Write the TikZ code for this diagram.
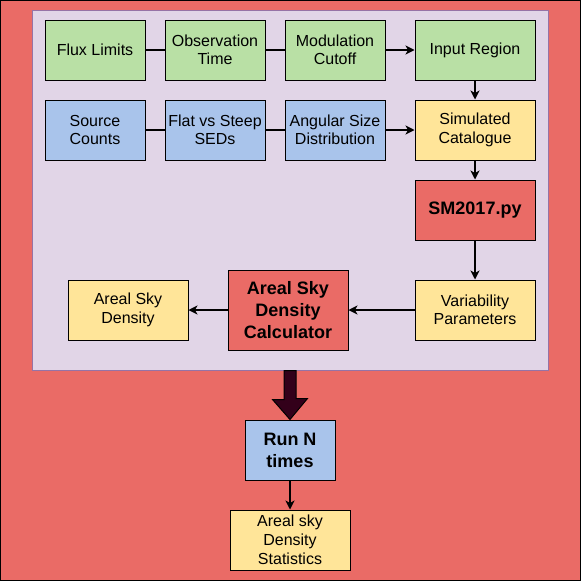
\documentclass[tikz,border=0pt]{standalone}
\usepackage{fontspec}
\setmainfont{Liberation Sans}
\usetikzlibrary{positioning,arrows.meta}

\definecolor{bgred}{HTML}{EA6B66}
\definecolor{lavender}{HTML}{E1D5E7}
\definecolor{lavline}{HTML}{9673A6}
\definecolor{boxgreen}{HTML}{B9E0A5}
\definecolor{boxblue}{HTML}{A9C4EB}
\definecolor{boxyellow}{HTML}{FFE599}
\definecolor{darkmaroon}{HTML}{33001A}

\begin{document}
\begin{tikzpicture}[x=1pt,y=-1pt,node distance=120pt,on grid,
	box/.style={draw=black,line width=1pt,minimum width=100pt,minimum height=60pt,
		inner sep=0pt,align=center,font=\fontsize{16}{18.5}\selectfont},
	inbox/.style={box,fill=boxgreen},
	srcbox/.style={box,fill=boxblue},
	outbox/.style={box,fill=boxyellow},
	procbox/.style={box,fill=bgred},
	wide/.style={minimum width=120pt},
	heavy/.style={font=\fontsize{18}{22}\selectfont\bfseries},
	flow/.style={line width=1.3pt,-{Stealth[length=9pt,width=9pt,inset=2.5pt]}},
	panel/.style={draw=lavline,fill=lavender,line width=1pt,minimum width=516pt,minimum height=360pt,inner sep=0pt}]
	\useasboundingbox (0,0) rectangle (581,581);
	\draw[fill=bgred,line width=1pt] (0.5,0.5) rectangle (580.5,580.5);
	\node[panel] (panel) at (290,190) {};

	\node[inbox] (flux) at (95,50) {Flux Limits};
	\node[inbox] (obstime) [right=of flux] {Observation\\Time};
	\node[inbox] (modcut) [right=of obstime] {Modulation\\Cutoff};
	\node[inbox,wide] (inregion) [right=140pt of modcut] {Input Region};
	\node[srcbox] (srccounts) [below=80pt of flux] {Source\\Counts};
	\node[srcbox] (seds) [right=of srccounts] {Flat vs Steep\\SEDs};
	\node[srcbox] (angsize) [right=of seds] {Angular Size\\Distribution};
	\node[outbox,wide] (simcat) [below=80pt of inregion] {Simulated\\Catalogue};
	\node[procbox,wide,heavy] (sm) [below=80pt of simcat] {SM2017.py};
	\node[outbox,wide] (varpar) [below=100pt of sm] {Variability\\Parameters};
	\node[procbox,wide,heavy,minimum height=80pt] (calc) [left=187pt of varpar] {Areal Sky\\Density\\Calculator};
	\node[outbox,wide] (density) [left=160pt of calc] {Areal Sky\\Density};
	\node[srcbox,heavy,minimum width=90pt] (runn) at (290,450) {Run N\\times};
	\node[outbox,wide,font=\fontsize{16}{19}\selectfont] (stats) [below=90pt of runn] {Areal sky\\Density\\Statistics};

	\path[line width=1.3pt]
	(flux) edge (obstime)
	(obstime) edge (modcut)
	(srccounts) edge (seds)
	(seds) edge (angsize);
	\path[flow]
	(modcut) edge (inregion)
	(angsize) edge (simcat)
	(inregion) edge (simcat)
	(simcat) edge (sm)
	(sm) edge (varpar)
	(varpar) edge (calc)
	(calc) edge (density)
	(runn) edge (stats);

	% fat arrow out of the panel
	\draw[fill=darkmaroon,line width=1pt] ([xshift=-6pt]panel.south) -- ++(0,29) -- ++(-11.5,0)
		-- (runn.north) -- ++(17.5,-21) -- ++(-11.5,0) -- ([xshift=6pt]panel.south) -- cycle;
\end{tikzpicture}
\end{document}
